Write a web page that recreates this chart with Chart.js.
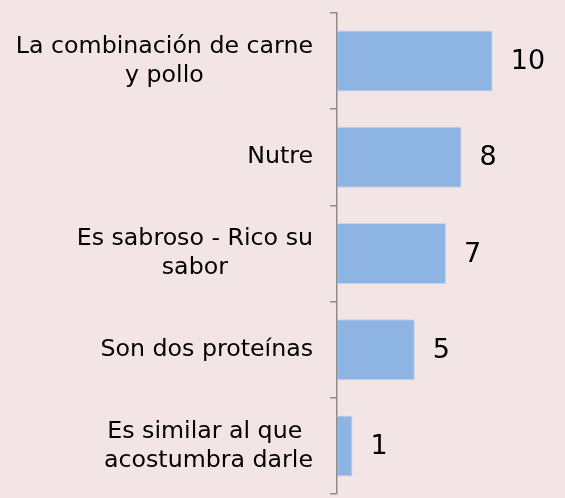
<!DOCTYPE html>
<html>
<head>
<meta charset="utf-8">
<script src="https://cdn.jsdelivr.net/npm/chart.js@4"></script>
<style>
  html, body { margin: 0; padding: 0; background: #f3e5e5; }
  #wrap { width: 565px; height: 498px; position: relative; }
</style>
</head>
<body>
<div id="wrap"><canvas id="grafico"></canvas></div>
<script>
const categorias = [
    ['La combinación de carne', 'y pollo'],
    ['Nutre'],
    ['Es sabroso - Rico su', 'sabor'],
    ['Son dos proteínas'],
    ['Es similar al que ', 'acostumbra darle']
];
const valores = [10, 8, 7, 5, 1];

const fuente = 'DejaVu Sans, Verdana, sans-serif';

// etiquetas de categoria: cada bloque centrado, alineado a la derecha del eje
const etiquetasCategoria = {
    id: 'etiquetasCategoria',
    afterDraw(chart) {
        const ctx = chart.ctx;
        const escalaY = chart.scales.y;
        const derecha = escalaY.right - 24;
        const alto = 29;
        ctx.save();
        ctx.font = '23.7px ' + fuente;
        ctx.fillStyle = '#000';
        ctx.textAlign = 'center';
        ctx.textBaseline = 'middle';
        categorias.forEach((lineas, i) => {
            const ancho = Math.max(...lineas.map(l => ctx.measureText(l).width));
            const cx = derecha - ancho / 2;
            const cy = escalaY.getPixelForValue(i);
            const y0 = cy - (lineas.length - 1) * alto / 2;
            lineas.forEach((l, j) => ctx.fillText(l, cx, y0 + j * alto));
        });
        ctx.restore();
    }
};

// valores al final de cada barra
const etiquetasValor = {
    id: 'etiquetasValor',
    afterDatasetsDraw(chart) {
        const ctx = chart.ctx;
        const meta = chart.getDatasetMeta(0);
        ctx.save();
        ctx.font = '27px ' + fuente;
        ctx.fillStyle = '#000';
        ctx.textAlign = 'left';
        ctx.textBaseline = 'middle';
        meta.data.forEach((barra, i) => {
            ctx.fillText(String(valores[i]), barra.x + 18, barra.y + 1);
        });
        ctx.restore();
    }
};

new Chart(document.getElementById('grafico'), {
    type: 'bar',
    data: {
        labels: categorias,
        datasets: [{
            data: valores,
            backgroundColor: '#8eb4e3',
            borderColor: '#c3d4ec',
            borderWidth: 1,
            categoryPercentage: 1,
            barPercentage: 0.634
        }]
    },
    options: {
        indexAxis: 'y',
        responsive: true,
        maintainAspectRatio: false,
        animation: false,
        layout: {
            padding: { top: 13, bottom: 4, left: 0, right: 10 }
        },
        plugins: {
            legend: { display: false },
            tooltip: { enabled: false }
        },
        scales: {
            x: {
                display: false,
                min: 0,
                max: 14
            },
            y: {
                ticks: { display: false },
                afterFit(scale) { scale.width = 337; },
                grid: {
                    drawOnChartArea: false,
                    drawTicks: true,
                    tickLength: 7,
                    color: '#8c8c8c',
                    lineWidth: 1.5
                },
                border: { display: true, color: '#8c8c8c', width: 1.5 }
            }
        }
    },
    plugins: [etiquetasCategoria, etiquetasValor]
});
</script>
</body>
</html>
